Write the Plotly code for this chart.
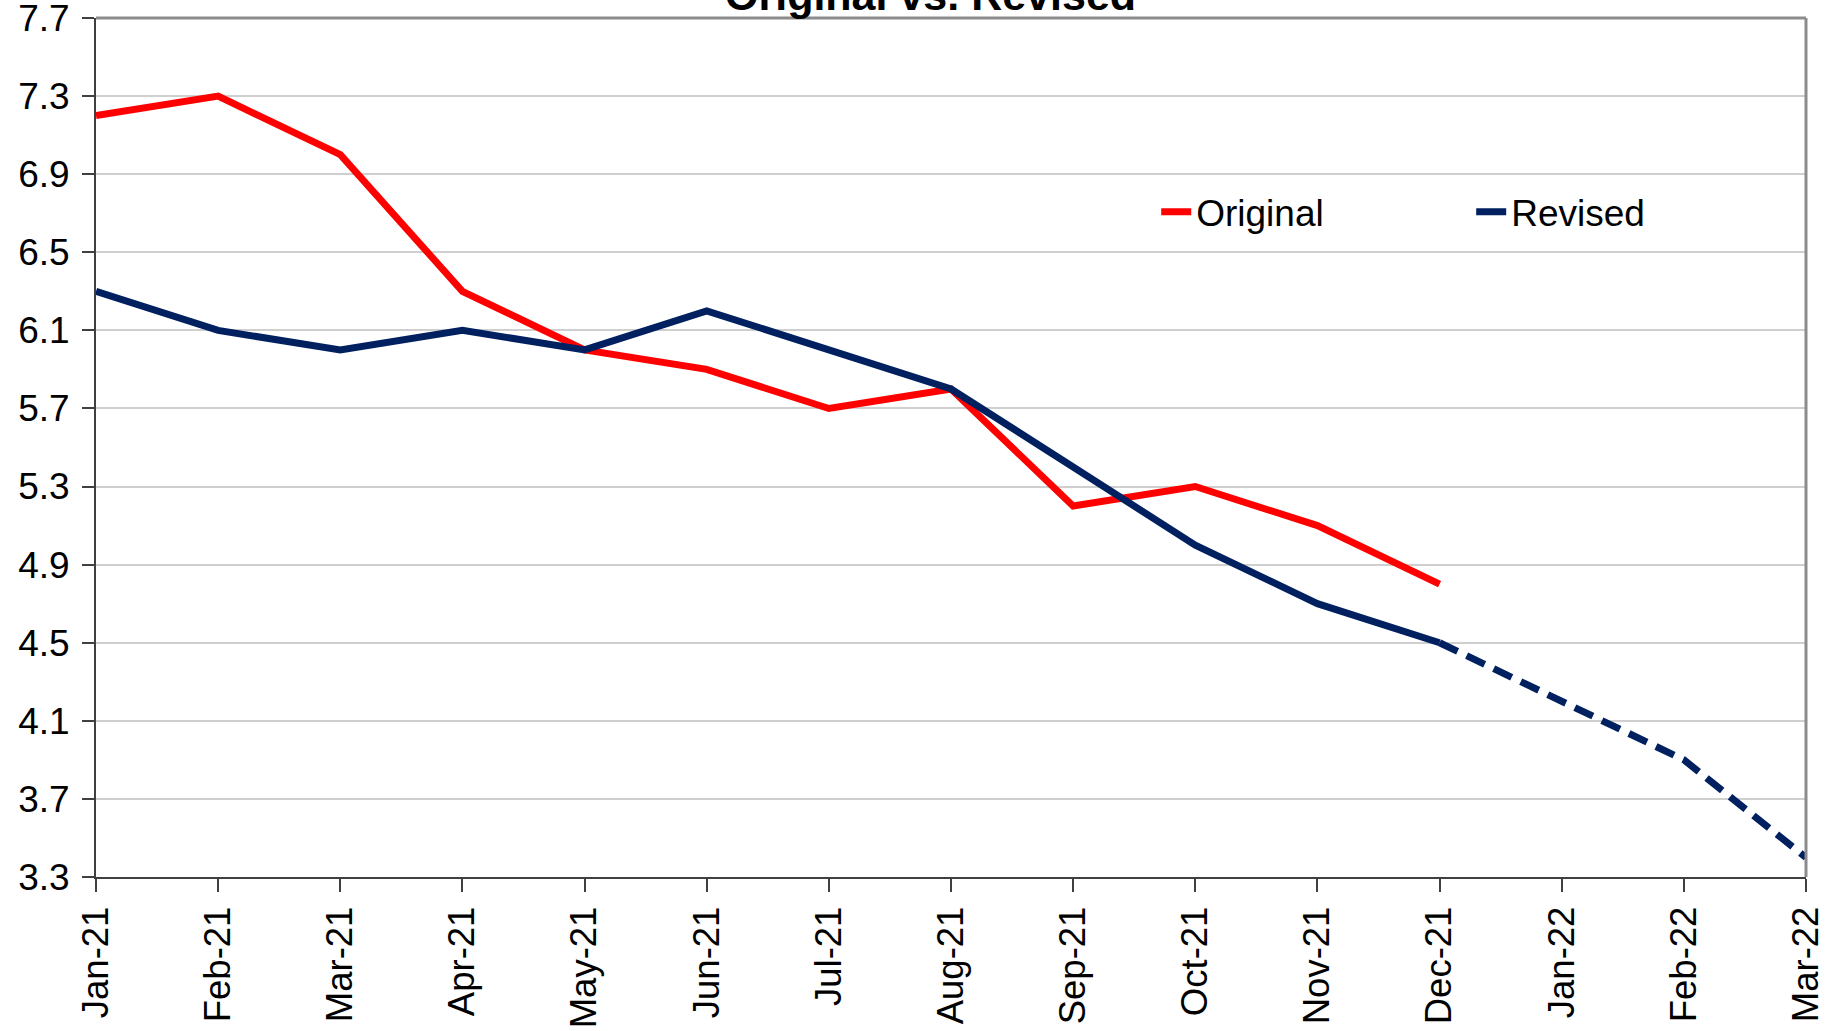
"""
Original vs. Revised line chart
"""

import plotly.graph_objects as go

months = ["Jan-21", "Feb-21", "Mar-21", "Apr-21", "May-21", "Jun-21", "Jul-21",
          "Aug-21", "Sep-21", "Oct-21", "Nov-21", "Dec-21", "Jan-22", "Feb-22", "Mar-22"]

original = [7.2, 7.3, 7.0, 6.3, 6.0, 5.9, 5.7, 5.8, 5.2, 5.3, 5.1, 4.8]
revised = [6.3, 6.1, 6.0, 6.1, 6.0, 6.2, 6.0, 5.8, 5.4, 5.0, 4.7, 4.5]
# projected part of the revised series, starting at Dec-21
revised_proj = [4.5, 4.2, 3.9, 3.4]

y_ticks = [3.3, 3.7, 4.1, 4.5, 4.9, 5.3, 5.7, 6.1, 6.5, 6.9, 7.3, 7.7]

RED = "#ff0000"
NAVY = "#002060"
FONT = "Liberation Sans, Arial, sans-serif"

fig = go.Figure()

fig.add_trace(go.Scatter(x=months[:len(original)], y=original, mode="lines",
                         name="Original", line=dict(color=RED, width=7)))
fig.add_trace(go.Scatter(x=months[:len(revised)], y=revised, mode="lines",
                         name="Revised", line=dict(color=NAVY, width=7)))
fig.add_trace(go.Scatter(x=months[len(revised) - 1:], y=revised_proj, mode="lines",
                         showlegend=False,
                         line=dict(color=NAVY, width=7, dash="20px,10px")))

fig.update_layout(
    width=1835, height=1031,
    margin=dict(l=96, r=29, t=18, b=154),
    paper_bgcolor="white", plot_bgcolor="white",
    font=dict(family=FONT, color="black", size=36),
    showlegend=True,
    legend=dict(orientation="h", x=0.62, y=0.774, xanchor="left", yanchor="middle",
                font=dict(size=37), entrywidth=270, bgcolor="rgba(0,0,0,0)"),
)

fig.update_xaxes(
    type="category", categoryorder="array", categoryarray=months,
    range=[0, len(months) - 1], automargin=False,
    tickangle=-90, ticks="outside", ticklen=13, tickwidth=2, tickcolor="#404040",
    ticklabelstandoff=0, ticklabeloverflow="allow",
    showline=True, linecolor="#404040", linewidth=2,
    showgrid=False, zeroline=False,
    tickfont=dict(size=36.5),
)
fig.update_yaxes(
    range=[3.2999, 7.7001], tickvals=y_ticks, tickformat=".1f", automargin=False,
    ticks="outside", ticklen=12, tickwidth=2, tickcolor="#404040",
    ticklabelstandoff=5, ticklabeloverflow="allow",
    showline=True, linecolor="#404040", linewidth=2,
    showgrid=True, gridcolor="#cfcfcf", gridwidth=2, zeroline=False,
    tickfont=dict(size=37),
)

# grey frame on top and right of the plot area
fig.add_shape(type="line", xref="paper", yref="paper", x0=0, x1=1, y0=1, y1=1,
              line=dict(color="#8c8c8c", width=3), layer="above")
fig.add_shape(type="line", xref="paper", yref="paper", x0=1, x1=1, y0=0, y1=1,
              line=dict(color="#8c8c8c", width=3), layer="above")

# title sits mostly above the top of the page
fig.add_annotation(text="<b>Original vs. Revised</b>", xref="paper", yref="paper",
                   x=0.488, y=1, xanchor="center", yanchor="bottom", yshift=-3,
                   showarrow=False, font=dict(size=43, family=FONT))

# drop the default page margin so the figure fills the window
fig.write_html("out.html", config={"displayModeBar": False},
               post_script="document.body.style.margin = '0';")
